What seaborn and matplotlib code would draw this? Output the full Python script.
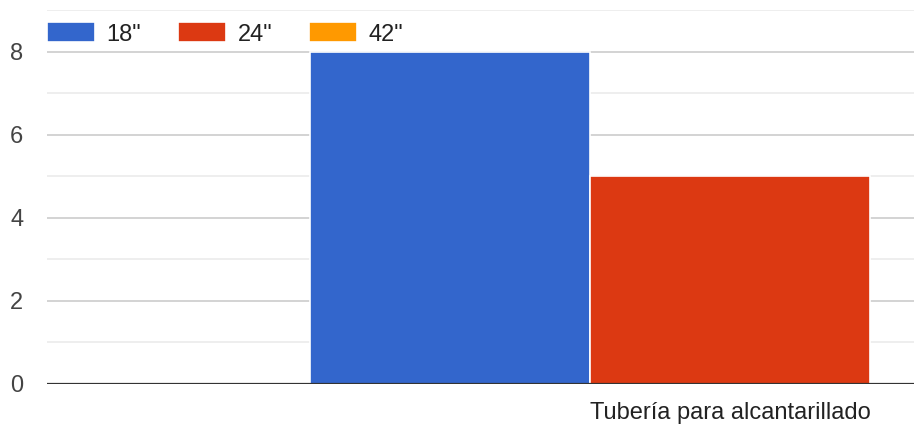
import matplotlib
matplotlib.use("Agg")
import matplotlib.pyplot as plt
from matplotlib.ticker import MultipleLocator
import seaborn as sns
import pandas as pd

# Data
categories = ["Tubería para alcantarillado"]
series = ['18"', '24"', '42"']
values = [8, 5, 0]
colors = ["#3366cc", "#dc3912", "#ff9900"]

df = pd.DataFrame({
    "categoria": categories * len(series),
    "diametro": series,
    "cantidad": values,
})

sns.set_theme(style="white")
plt.rcParams["font.family"] = ["Liberation Sans", "DejaVu Sans"]

fig = plt.figure(figsize=(9.14, 4.26), dpi=100)
ax = fig.add_axes([47 / 914, 42 / 426, 1 - 47 / 914, 374 / 426])

sns.barplot(data=df, x="categoria", y="cantidad", hue="diametro",
            hue_order=series, palette=colors, saturation=1, width=0.8, gap=0,
            edgecolor="white", linewidth=1.2, ax=ax, zorder=3)

ax.set_xlim(-0.65, 0.175)
ax.set_ylim(0, 9)
ax.yaxis.set_major_locator(MultipleLocator(2))
ax.yaxis.set_minor_locator(MultipleLocator(1))
ax.grid(which="major", axis="y", color="#cccccc", linewidth=1.2, zorder=0)
ax.grid(which="minor", axis="y", color="#ebebeb", linewidth=1.2, zorder=0)
ax.grid(which="major", axis="x", visible=False)
ax.axhline(0, color="#333333", linewidth=1.6, zorder=4)

for s in ax.spines.values():
    s.set_visible(False)

ax.tick_params(axis="y", which="both", length=0, pad=17, labelsize=17,
               labelcolor="#444444")
ax.tick_params(axis="x", length=0, pad=13, labelsize=17, labelcolor="#222222")
ax.set_xlabel("")
ax.set_ylabel("")

handles, labels = ax.get_legend_handles_labels()
ax.legend(handles, labels, ncol=3, loc="center left",
          bbox_to_anchor=(47 / 914, 1 - 34 / 426), bbox_transform=fig.transFigure,
          frameon=False, borderpad=0, borderaxespad=0,
          handlelength=2.03, handleheight=0.93, handletextpad=0.5,
          columnspacing=1.55, fontsize=17, labelcolor="#222222")

fig.savefig("out.png", dpi=100)
